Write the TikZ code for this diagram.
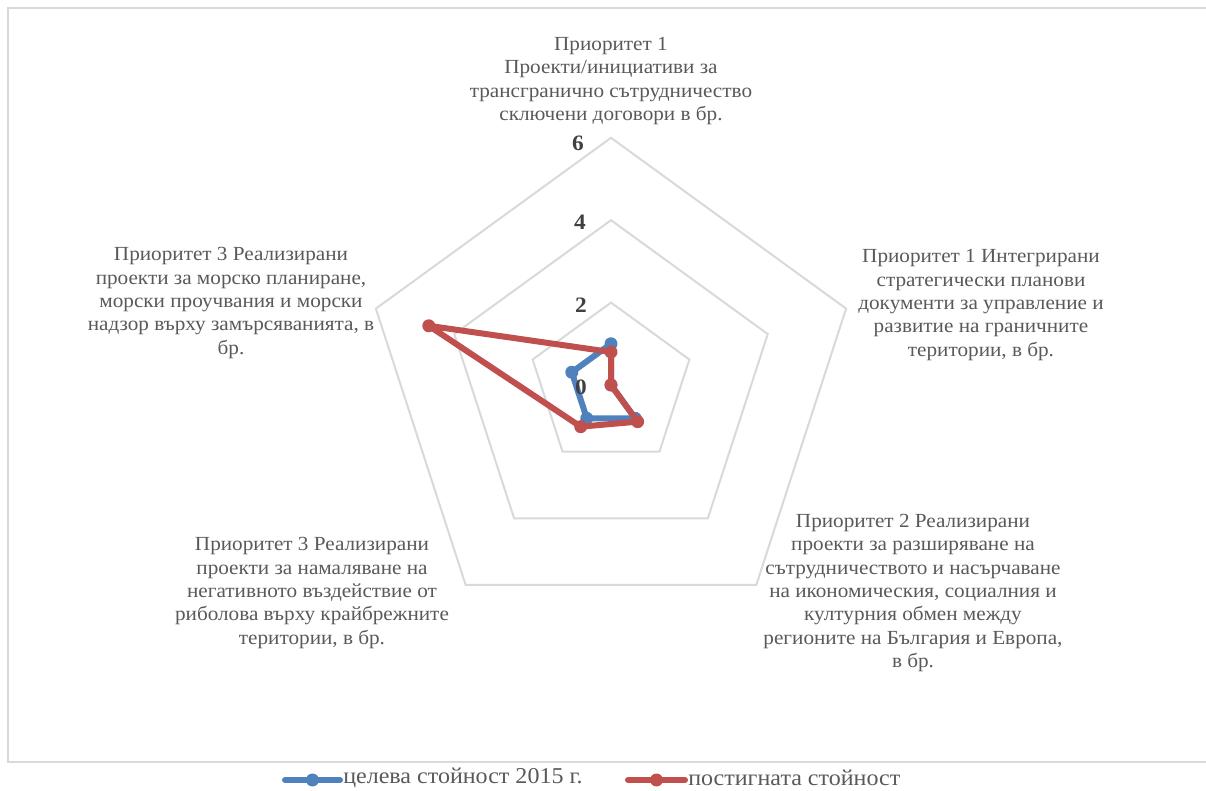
\documentclass[tikz,border=0pt]{standalone}
\usepackage{fontspec}
\setmainfont{Liberation Serif}[FakeStretch=1.06]
\usetikzlibrary{calc}
\definecolor{gridgray}{HTML}{D9D9D9}
\definecolor{labelgray}{HTML}{595959}
\definecolor{tickgray}{HTML}{404040}
\definecolor{targetblue}{HTML}{4F81BD}
\definecolor{reachedred}{HTML}{C0504D}
\tikzset{
  frameline/.style={draw=gridgray, line width=1.5pt},
  gridline/.style={draw=gridgray, line width=1.5pt, line join=miter},
  ticklabel/.style={text=tickgray, font=\fontsize{16.5}{18}\selectfont\bfseries, inner sep=0pt},
  axislabel/.style={text=labelgray, align=center, inner sep=0pt},
  targetline/.style={draw=targetblue, line width=4.5pt, line join=round, line cap=round},
  reachedline/.style={draw=reachedred, line width=4.5pt, line join=round, line cap=round},
  legendtext/.style={text=labelgray, anchor=west, inner sep=0pt, font=\fontsize{17}{19}\selectfont},
}

\begin{document}
\begin{tikzpicture}[x=0.75pt, y=0.75pt, font=\fontsize{15}{17.5}\selectfont]
 \useasboundingbox (-611,-406) rectangle (595,385);
 \draw[frameline] (600,377) -- (-603,377) -- (-603,-377) -- (600,-377);
 \coordinate (center) at (0,0);

 % grid rings
 \foreach \r in {2,4,6}
  \draw[gridline] (90:\r*41.2) -- (18:\r*41.2) -- (-54:\r*41.2)
   -- (-126:\r*41.2) -- (162:\r*41.2) -- cycle;

 % axis labels
 \node[axislabel] (prio1a) at (0,304) {Приоритет 1\\Проекти/инициативи за\\трансгранично сътрудничество\\сключени договори в бр.};
 \node[axislabel] (prio1b) at (370,80) {Приоритет 1 Интегрирани\\стратегически планови\\документи за управление и\\развитие на граничните\\територии, в бр.};
 \node[axislabel] (prio2) at (302,-208) {Приоритет 2 Реализирани\\проекти за разширяване на\\сътрудничеството и насърчаване\\на икономическия, социалния и\\културния обмен между\\регионите на България и Европа,\\в бр.};
 \node[axislabel] (prio3a) at (-299,-208) {Приоритет 3 Реализирани\\проекти за намаляване на\\негативното въздействие от\\риболова върху крайбрежните\\територии, в бр.};
 \node[axislabel] (prio3b) at (-380,82) {Приоритет 3 Реализирани\\проекти за морско планиране,\\морски проучвания и морски\\надзор върху замърсяванията, в\\бр.};

 % series
 \foreach \v [count=\i] in {1,0,1,1,1}
  \coordinate (target\i) at ({162-72*\i}:{\v*41.2});
 \foreach \v [count=\i] in {0.8,0,1.1,1.25,4.65}
  \coordinate (reached\i) at ({162-72*\i}:{\v*41.2});
 \draw[targetline] (target1) -- (target2) -- (target3) -- (target4) -- (target5) -- cycle;
 \foreach \i in {1,...,5}
  \fill[targetblue] (target\i) circle (6.5);
 \draw[reachedline] (reached1) -- (reached2) -- (reached3) -- (reached4) -- (reached5) -- cycle;
 \foreach \i in {1,...,5}
  \fill[reachedred] (reached\i) circle (6.5);

 % ticks on top
 \foreach \v/\x/\y in {0/-30/-2,2/-30/80,4/-31/163,6/-33/242}
  \node[ticklabel] (tick\v) at (\x,\y) {\v};

 % legend
 \coordinate (legtargetA) at (-326,-395);
 \coordinate (legtargetB) at (-271,-395);
 \draw[targetline] (legtargetA) -- (legtargetB);
 \fill[targetblue] ($(legtargetA)!0.5!(legtargetB)$) circle (6.5);
 \node[legendtext] (legtarget) at (-268,-393) {целева стойност 2015 г.};
 \coordinate (legreachedA) at (17,-395);
 \coordinate (legreachedB) at (74,-395);
 \draw[reachedline] (legreachedA) -- (legreachedB);
 \fill[reachedred] ($(legreachedA)!0.5!(legreachedB)$) circle (6.5);
 \node[legendtext] (legreached) at (77,-393) {постигната стойност};
\end{tikzpicture}
\end{document}
